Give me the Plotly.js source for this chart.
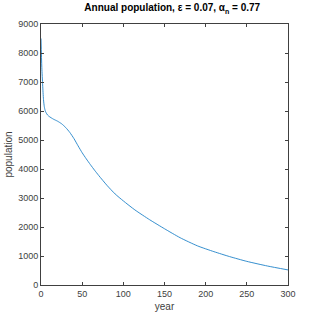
<!DOCTYPE html>
<html>
<head>
<meta charset="utf-8">
<script src="https://cdn.plot.ly/plotly-3.0.1.min.js"></script>
<style>html,body{margin:0;padding:0;background:#fff;}#chart{width:319px;height:319px;}</style>
</head>
<body>
<div id="chart"></div>
<script>
const years = [0,1,2,3,4,5,6,8,10,15,20,25,30,35,40,45,50,55,60,65,70,80,90,100,114,132,150,169,190,210,229,250,275,300];
const population = [8500,7500,6900,6400,6150,6020,5950,5860,5810,5720,5650,5560,5430,5260,5050,4800,4560,4350,4150,3960,3780,3440,3140,2900,2590,2250,1940,1630,1350,1150,980,815,655,520];
const xTicks = [0,50,100,150,200,250,300];
const yTicks = [0,1000,2000,3000,4000,5000,6000,7000,8000,9000];

const fontFam = '"Liberation Sans Narrow", "Liberation Sans", Arial, sans-serif';
const axisCommon = {
  showgrid:false, zeroline:false, showline:true, mirror:'ticks',
  linecolor:'#404040', linewidth:1, ticks:'inside', ticklen:3, tickcolor:'#404040',
  tickfont:{family:fontFam, size:9, color:'#404040'}
};
Plotly.newPlot('chart', [{
  x: years, y: population, type:'scatter', mode:'lines', line:{color:'#1f82c8', width:0.9, shape:'spline', smoothing:0.6},
  hoverinfo:'skip'
}], {
  width:319, height:319,
  margin:{l:41, r:31, t:24, b:34},
  paper_bgcolor:'#fff', plot_bgcolor:'#fff',
  showlegend:false,
  title:{text:'<b>Annual population, ε = 0.07, α<sub>n</sub> = 0.77</b>', font:{family:fontFam, size:10, color:'#000'}, x:0.54, xanchor:'center', y:0.975, yanchor:'middle'},
  xaxis:Object.assign({}, axisCommon, {range:[0,300], tickvals:xTicks, ticktext:xTicks.map(String),
    title:{text:'year', font:{family:fontFam, size:10, color:'#404040'}, standoff:5}}),
  yaxis:Object.assign({}, axisCommon, {range:[0,9000], tickvals:yTicks, ticktext:yTicks.map(String),
    title:{text:'population', font:{family:fontFam, size:10, color:'#404040'}, standoff:3}})
}, {displayModeBar:false, staticPlot:true});
</script>
</body>
</html>
